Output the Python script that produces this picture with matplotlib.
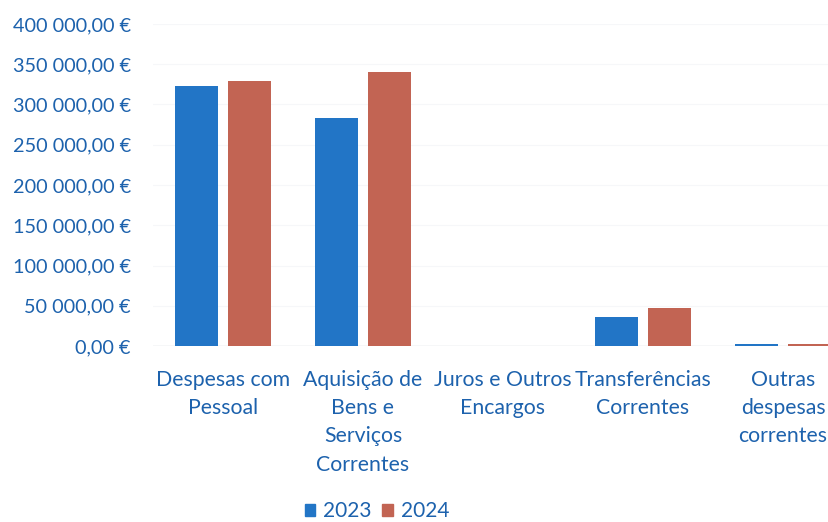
import numpy as np
import matplotlib
matplotlib.use("Agg")
import matplotlib.pyplot as plt
from matplotlib.patches import Patch
from matplotlib.ticker import FuncFormatter

categories = ["Despesas com\nPessoal", "Aquisição de\nBens e\nServiços\nCorrentes",
              "Juros e Outros\nEncargos", "Transferências\nCorrentes",
              "Outras\ndespesas\ncorrentes"]
vals_2023 = [322500, 282800, 0, 36000, 2500]
vals_2024 = [328700, 339800, 0, 47100, 2500]

blue = "#2275c6"
red = "#c26453"
txt = "#1d62ad"

plt.rcParams['font.family'] = ['Lato', 'DejaVu Sans']

fig = plt.figure(figsize=(8.29, 5.22), dpi=100)
# axes runs past the right edge, the original picture is cropped there
ax = fig.add_axes([153/829, 176/522, 700/829, 322/522])

x = np.arange(len(categories))
w = 0.305
ax.bar(x - 0.19, vals_2023, w, color=blue, label="2023", zorder=3)
ax.bar(x + 0.19, vals_2024, w, color=red, label="2024", zorder=3)

ax.set_xlim(-0.5, 4.5)
ax.set_ylim(0, 400000)
ax.set_yticks(np.arange(0, 400001, 50000))
ax.yaxis.set_major_formatter(FuncFormatter(lambda v, p: f"{v:,.2f} €".replace(",", " ").replace(".", ",")))
ax.grid(axis='y', color="#f6f7f9", linewidth=0.8, zorder=0)
ax.axhline(0, color="#d8dce2", linewidth=1, zorder=2)

ax.set_xticks(x)
ax.set_xticklabels(categories, fontsize=15.3, color=txt, linespacing=1.52, va='top')
for lab in ax.get_yticklabels():
    lab.set_fontsize(14.3)
    lab.set_color(txt)
ax.tick_params(axis='both', length=0)
ax.tick_params(axis='x', pad=17)
ax.tick_params(axis='y', pad=16)
for s in ax.spines.values():
    s.set_visible(False)

handles = [Patch(color=blue, label="2023"), Patch(color=red, label="2024")]
leg = fig.legend(handles=handles, loc='center', bbox_to_anchor=(377/829, 11/522),
                 ncol=2, frameon=False, fontsize=15, handlelength=0.5, handleheight=0.5,
                 handletextpad=0.4, columnspacing=0.5)
for t in leg.get_texts():
    t.set_color(txt)

fig.savefig("out.png", dpi=100)
